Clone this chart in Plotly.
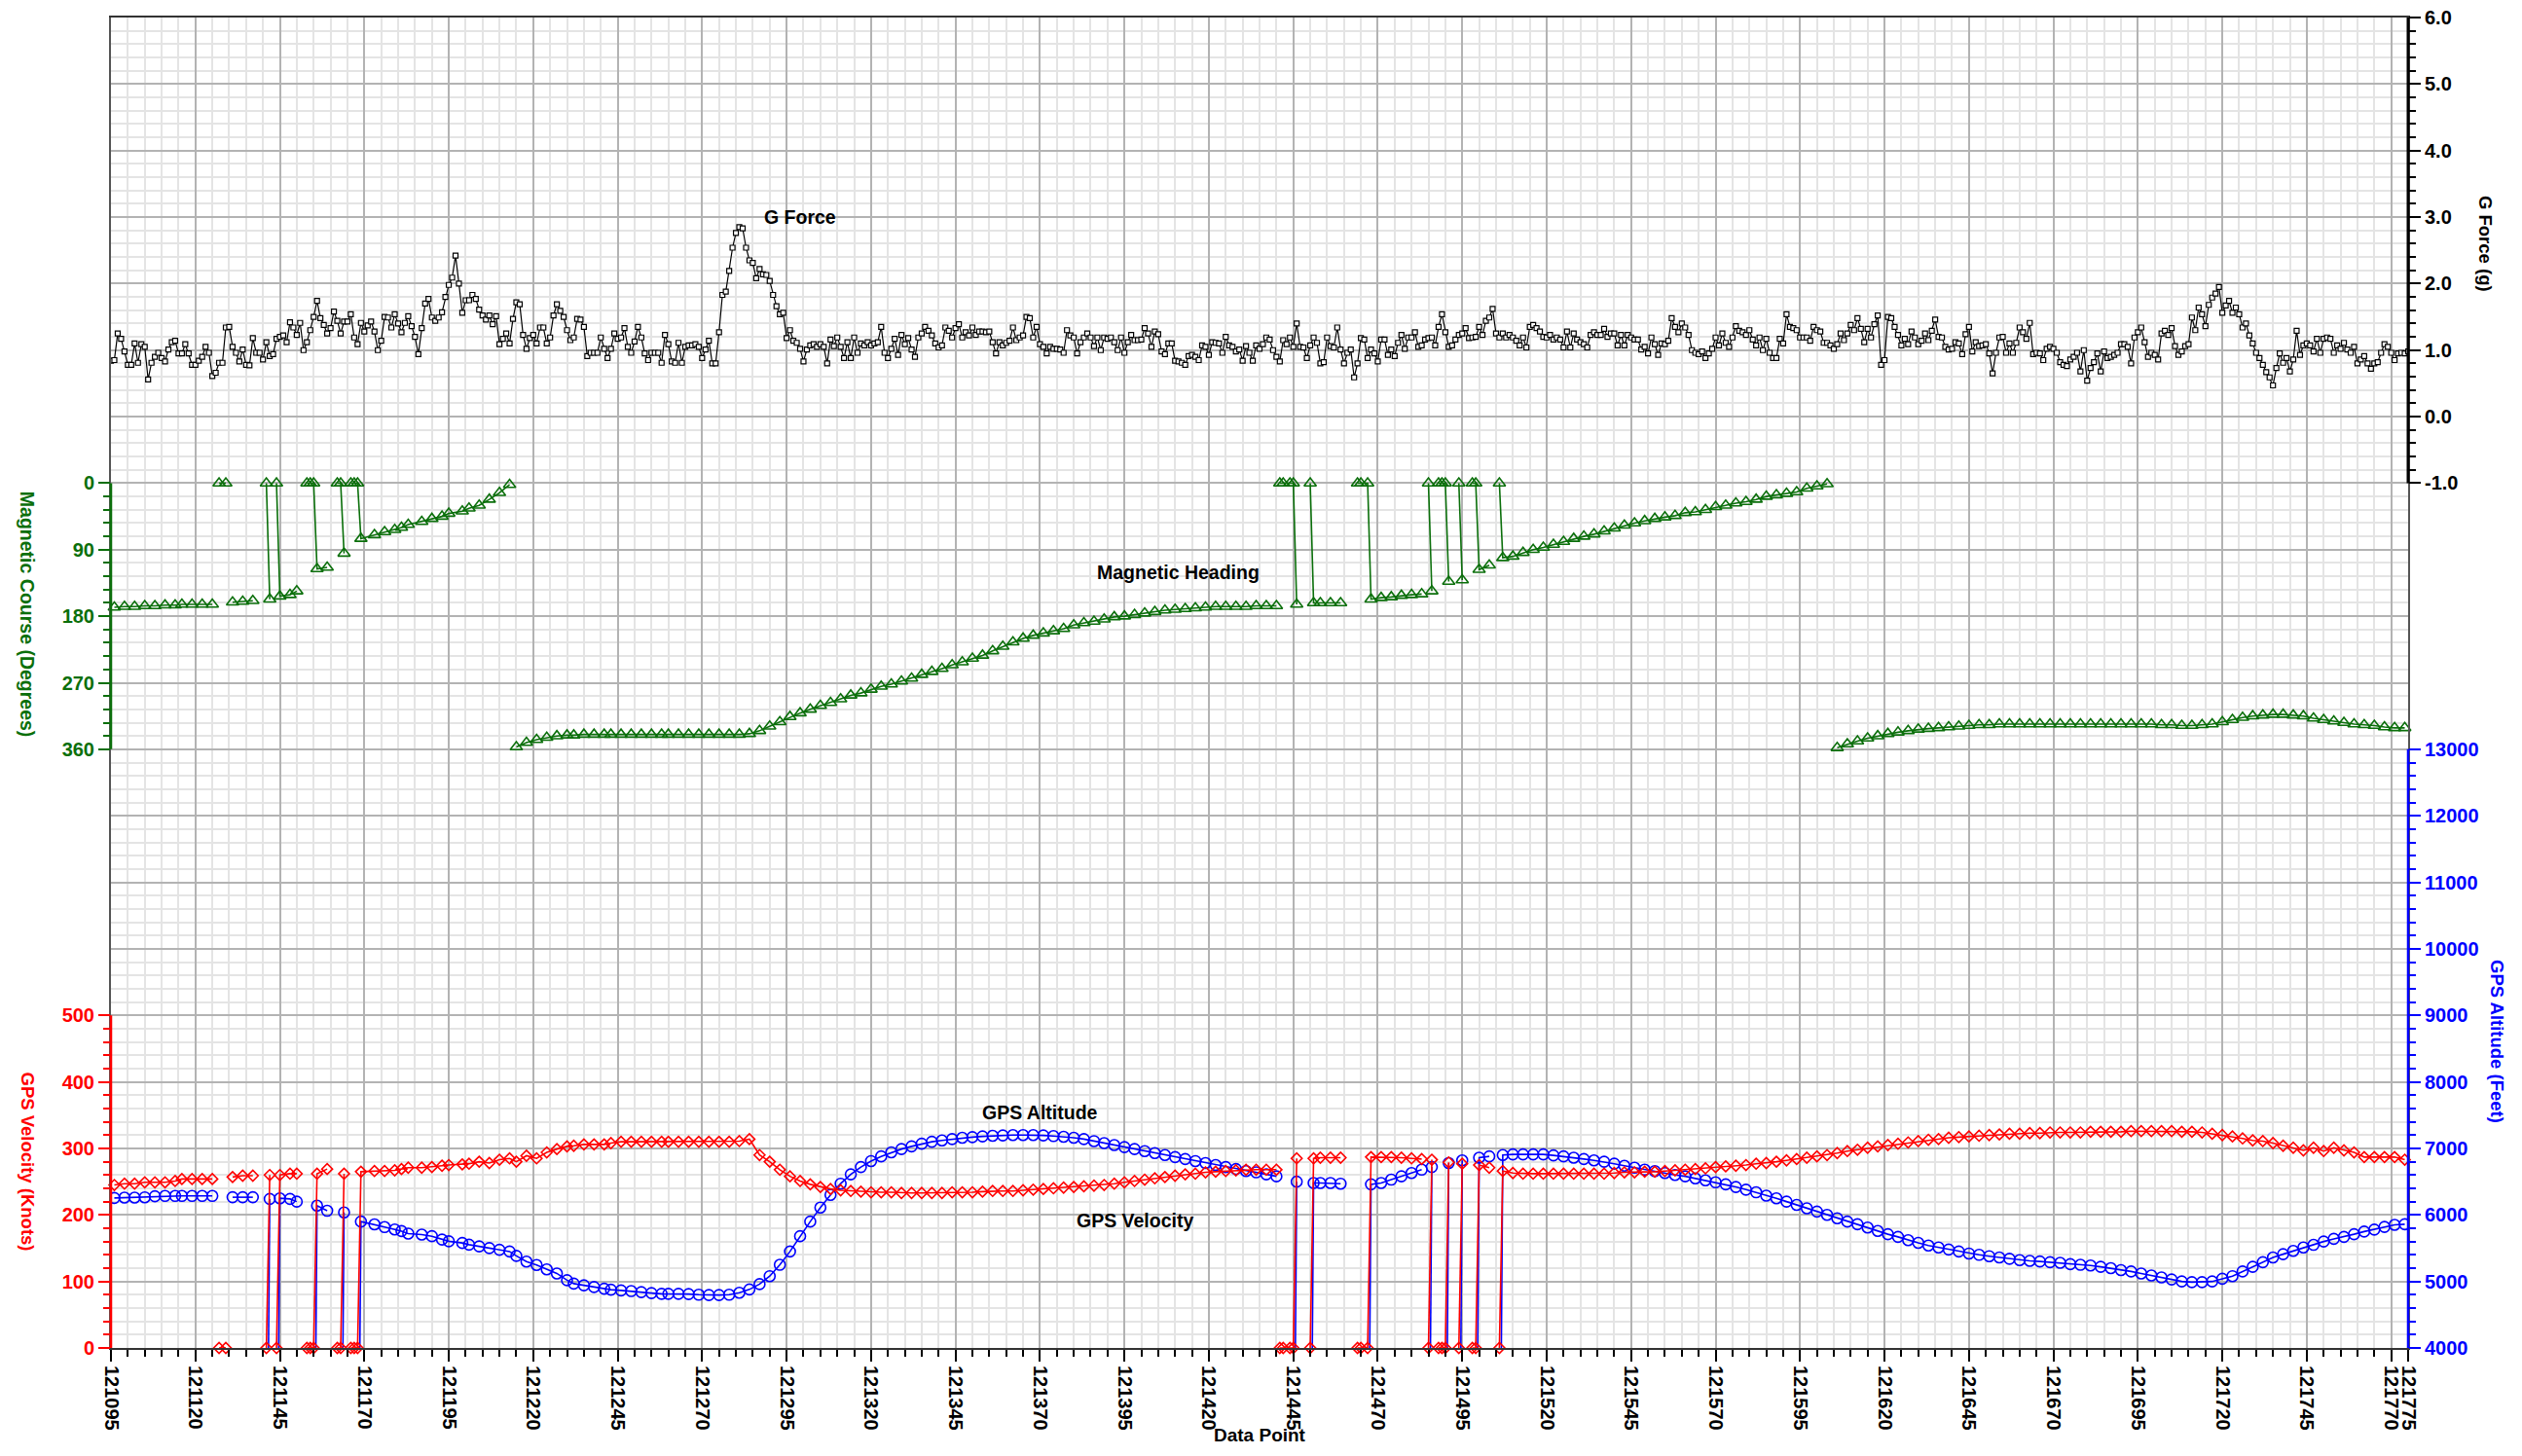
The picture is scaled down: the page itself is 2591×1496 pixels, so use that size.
import plotly.graph_objects as go

FONT = "Liberation Sans, Arial, sans-serif"
GREEN = "#0b6f0b"
RED = "#ff0000"
BLUE = "#0000ff"
BLACK = "#000000"

# ---------------- data ----------------
x_start, x_end = 121095, 121775
x_major = [121095, 121120, 121145, 121170, 121195, 121220, 121245, 121270, 121295, 121320,
           121345, 121370, 121395, 121420, 121445, 121470, 121495, 121520, 121545, 121570,
           121595, 121620, 121645, 121670, 121695, 121720, 121745, 121770, 121775]

g_force_a = [
    0.84, 0.85, 1.25, 1.17, 0.98, 0.78, 0.78, 1.10, 0.81, 1.09,
    1.05, 0.56, 0.81, 0.90, 0.96, 0.88, 0.83, 1.01, 1.12, 1.14,
    0.95, 0.95, 1.09, 0.95, 0.78, 0.78, 0.84, 0.90, 1.05, 0.96,
    0.61, 0.66, 0.81, 0.81, 1.34, 1.35, 1.05, 0.96, 0.83, 1.01,
    0.78, 0.77, 1.18, 0.96, 0.96, 0.86, 1.12, 0.91, 0.94, 1.17,
    1.20, 1.22, 1.12, 1.42, 1.34, 1.23, 1.41, 1.00, 1.12, 1.30,
    1.50, 1.74, 1.48, 1.38, 1.25, 1.33, 1.58, 1.44, 1.25, 1.43,
    1.43, 1.54, 1.19, 1.09, 1.41, 1.28, 1.37, 1.43, 1.28, 1.00,
    1.14, 1.50, 1.49, 1.34, 1.54, 1.40, 1.27, 1.41, 1.51, 1.36,
    1.20, 0.94, 1.33, 1.70, 1.77, 1.49, 1.44, 1.49, 1.57, 1.80,
    1.98, 2.09, 2.42, 2.00, 1.56, 1.75, 1.75, 1.83, 1.77, 1.61,
    1.52, 1.46, 1.52, 1.39, 1.51, 1.09, 1.17, 1.25, 1.10, 1.47,
    1.72, 1.69, 1.23, 1.02, 1.18, 1.23, 1.10, 1.34, 1.34, 1.10,
    1.19, 1.52, 1.69, 1.59, 1.50, 1.30, 1.15, 1.19, 1.47, 1.46,
    1.35, 0.91, 0.96, 0.96, 0.96, 1.19, 1.02, 0.88, 1.02, 1.25,
    1.17, 1.19, 1.33, 1.05, 0.96, 1.13, 1.35, 1.19, 0.95, 0.85,
    0.96, 0.96, 0.96, 0.81, 1.23, 1.09, 0.83, 0.81, 1.11, 0.81]
g_force_b = [
    1.05, 1.07, 1.07, 1.09, 1.05, 0.88, 1.01, 1.14, 0.80, 0.80,
    1.27, 1.83, 1.88, 2.19, 2.54, 2.76, 2.85, 2.83, 2.54, 2.35,
    2.31, 2.08, 2.22, 2.14, 2.13, 2.04, 1.83, 1.66, 1.54, 1.56,
    1.18, 1.30, 1.14, 1.11, 1.02, 0.83, 1.01, 1.07, 1.09, 1.05,
    1.09, 1.05, 0.80, 1.16, 1.06, 1.19, 1.05, 0.88, 1.12,
    0.88, 1.19, 0.96, 1.10, 1.07, 1.12, 1.07, 1.10, 1.12,
    1.35, 0.96, 0.88, 1.02, 1.17, 0.93, 1.23, 1.09, 1.18, 1.01,
    0.90, 1.19, 1.25, 1.35, 1.29, 1.22, 1.10, 1.04, 1.07, 1.34,
    1.29, 1.19, 1.33, 1.39, 1.19, 1.27, 1.22, 1.34, 1.23, 1.28,
    1.28, 1.27, 1.28, 1.12, 0.95, 1.12, 1.07, 1.11, 1.14,
    1.34, 1.15, 1.19, 1.22, 1.50, 1.48, 1.19, 1.35, 1.09, 1.05,
    0.95, 1.05, 1.02, 1.02, 1.01, 0.96, 1.30, 1.22, 1.19, 0.95,
    1.12, 1.19, 1.25, 1.19, 1.06, 1.19, 1.00, 1.19, 1.17, 1.19,
    1.12, 1.00, 1.19, 0.96, 1.12, 1.23, 1.15, 1.15,
    1.16, 1.33, 1.25, 1.05, 1.28, 1.24, 0.98, 0.94, 1.10, 1.10,
    0.84, 0.83, 0.81, 0.78, 0.91, 0.93, 0.90, 0.85, 1.07, 1.05,
    0.93, 1.12, 1.11, 1.10, 0.96, 1.20, 1.07, 1.05, 0.98, 1.01,
    0.84, 1.06, 0.96, 0.84, 1.07]
g_force_c = [
    1.02, 1.09, 1.19, 1.16, 1.00, 0.90, 0.83, 1.15, 1.09,
    1.19, 1.05, 1.40, 1.05, 1.04, 0.88, 1.07, 1.19,
    1.11, 0.80, 0.82, 1.19, 1.06, 1.04, 1.34, 1.01, 0.80,
    0.96, 1.01, 0.59, 0.80, 1.18, 1.16, 0.88, 1.01, 0.95, 0.83,
    1.16, 1.16, 0.93, 1.01, 0.91, 1.11, 1.23, 1.02, 1.19,
    1.19, 1.27, 1.05, 1.07, 1.16, 1.18, 1.19, 1.07, 1.35, 1.54,
    1.27, 1.05, 1.07, 1.16, 1.23, 1.25, 1.33, 1.18, 1.19, 1.20,
    1.35, 1.23, 1.44, 1.49, 1.62, 1.25, 1.19, 1.25, 1.19,
    1.23, 1.19, 1.14, 1.07, 1.19, 1.04, 1.35, 1.38,
    1.33, 1.28, 1.20, 1.19, 1.23, 1.16, 1.19, 1.16, 1.04,
    1.28, 1.04, 1.25, 1.16, 1.12, 1.09, 1.04, 1.23, 1.27, 1.23,
    1.23, 1.32, 1.20, 1.25, 1.25, 1.07, 1.23, 1.07, 1.23, 1.19,
    1.16, 1.16, 1.01, 1.05, 0.95, 1.19, 1.09, 0.93, 1.10, 1.09,
    1.14, 1.48, 1.35, 1.27, 1.40, 1.34, 1.23, 1.00, 0.96, 0.94,
    0.98, 0.88, 0.95, 1.02, 1.19, 1.07, 1.25, 1.11, 1.05, 1.19,
    1.36, 1.29, 1.27, 1.23, 1.30, 1.16, 1.07, 1.19, 1.00, 1.17,
    0.96, 0.88, 0.88, 1.17, 1.10, 1.54, 1.35, 1.33, 1.30, 1.19,
    1.19, 1.19, 1.14, 1.35, 1.30, 1.28, 1.11, 1.11, 1.07]
g_force_d = [
    1.02, 1.09, 1.25, 1.15, 1.25, 1.38, 1.30, 1.48, 1.32,
    1.12, 1.32, 1.19, 1.39, 1.52, 0.78, 0.85, 1.50, 1.48,
    1.35, 1.23, 1.07, 1.17, 1.09, 1.28, 1.19, 1.09, 1.14,
    1.25, 1.15, 1.29, 1.46, 1.20, 1.19, 1.05, 1.01, 1.02,
    1.12, 1.10, 0.94, 1.24, 1.35, 0.98, 1.12, 1.06, 1.07, 1.09,
    0.95, 0.65, 0.96, 1.19, 1.20, 0.96, 1.10, 0.96, 1.11, 1.34,
    1.27, 1.17, 1.41, 0.94, 0.96, 0.95, 0.85, 1.02, 1.05, 1.02,
    0.96, 0.82, 0.78, 0.76, 0.86, 0.90, 0.96, 0.68, 1.00, 0.54,
    0.73, 0.82, 0.95, 0.68, 0.98, 0.88, 0.90, 0.93, 0.96, 1.09,
    1.09, 1.05, 0.80, 1.19, 1.27, 1.34, 1.12, 0.90, 0.96, 0.93,
    0.86, 1.25, 1.29, 1.23, 1.33, 1.06, 0.93, 0.98, 1.06, 1.09,
    1.49, 1.30, 1.64, 1.54, 1.36, 1.68, 1.79, 1.85, 1.95, 1.56,
    1.67, 1.74, 1.56, 1.64, 1.54, 1.34, 1.40, 1.22, 1.10, 0.96,
    0.88, 0.78, 0.67, 0.59, 0.47, 0.73, 0.95, 0.81, 0.88, 0.68,
    0.86, 1.29, 0.93, 1.07, 1.10, 1.07, 0.98, 1.17, 0.96, 1.17,
    1.19, 1.17, 0.96, 1.07, 1.02, 1.11, 1.01, 0.96, 1.05,
    0.80, 0.86, 0.91, 0.80, 0.72, 0.80, 0.82, 0.96, 1.09, 1.05,
    0.96, 0.85, 0.95, 0.96, 0.95, 0.98]
g_force = g_force_a + g_force_b + g_force_c + g_force_d
g_point = list(range(x_start, x_end + 1))[:len(g_force)]

# GPS samples (None = break in the recorded line)
gps_point = [
    121096, 121099, 121102, 121105, 121108, 121111, 121114, 121116, 121119, 121122, 121125, None,
    121127, 121129, None,
    121131, 121134, 121137, None,
    121141, 121142, None,
    121144, 121145, 121148, 121150, None,
    121153, 121154, 121155, 121156, 121159, None,
    121162, 121163, 121164, None,
    121166, 121167, 121168, 121169, 121173, 121176, 121179, 121181, 121183, 121187, 121190, 121193, 121195,
    121199, 121201, 121204, 121207, 121210, 121213, 121215, 121218, 121221, 121224, 121227, 121230, 121232,
    121235, 121238, 121241, 121243, 121246, 121249, 121252, 121255, 121258, 121260,
    121263, 121266, 121269, 121272, 121275, 121278, 121281, 121284, 121287, 121290,
    121293, 121296, 121299, 121302, 121305, 121308, 121311, 121314, 121317, 121320,
    121323, 121326, 121329, 121332, 121335, 121338, 121341, 121344, 121347, 121350,
    121353, 121356, 121359, 121362, 121365, 121368, 121371, 121374, 121377, 121380,
    121383, 121386, 121389, 121392, 121395, 121398, 121401, 121404, 121407, 121410,
    121413, 121416, 121419, 121422, 121425, 121428, 121431, 121434, 121437, 121440, None,
    121441, 121442, 121444, 121445, 121446, None,
    121450, 121451, 121453, 121456, 121459, None,
    121464, 121465, 121467, 121468, 121471, 121474, 121477, 121480, 121483, None,
    121485, 121486, None,
    121488, 121489, 121490, 121491, None,
    121494, 121495, None,
    121498, 121499, 121500, 121503, None,
    121506,
    121507, 121510, 121513, 121516, 121519, 121522, 121525, 121528, 121531, 121534,
    121537, 121540, 121543, 121546, 121549, 121552, 121555, 121558, 121561, 121564,
    121567, 121570, 121573, 121576, 121579, 121582, 121585, 121588, 121591, 121594,
    121597, 121600, 121603, 121606, 121609, 121612, 121615, 121618, 121621, 121624,
    121627, 121630, 121633, 121636, 121639, 121642, 121645, 121648, 121651, 121654,
    121657, 121660, 121663, 121666, 121669, 121672, 121675, 121678, 121681, 121684,
    121687, 121690, 121693, 121696, 121699, 121702, 121705, 121708, 121711, 121714,
    121717, 121720, 121723, 121726, 121729, 121732, 121735, 121738, 121741, 121744,
    121747, 121750, 121753, 121756, 121759, 121762, 121765, 121768, 121771, 121774]

gps_velocity = [
    245, 247, 247, 249, 249, 249, 251, 254, 254, 254, 254, None,
    0, 0, None,
    257, 259, 259, None,
    0, 260, None,
    0, 260, 262, 262, None,
    0, 0, 0, 262, 269, None,
    0, 0, 262, None,
    0, 0, 0, 265, 266, 266, 267, 269, 271, 271, 272, 274, 275,
    276, 277, 280, 278, 283, 285, 280, 289, 285, 294, 299, 303, 304,
    306, 306, 306, 308, 310, 310, 310, 310, 310, 310,
    310, 310, 310, 310, 310, 310, 311, 314, 290, 280,
    268, 258, 251, 246, 242, 239, 237, 236, 235, 234,
    234, 234, 233, 233, 233, 233, 233, 234, 234, 234,
    235, 236, 236, 236, 237, 238, 239, 240, 241, 242,
    243, 244, 245, 247, 249, 251, 253, 255, 257, 259,
    261, 262, 264, 265, 266, 267, 268, 268, 268, 268, None,
    0, 0, 0, 0, 285, None,
    0, 285, 286, 286, 286, None,
    0, 0, 0, 287, 287, 287, 286, 285, 284, None,
    0, 283, None,
    0, 0, 0, 279, None,
    0, 277, None,
    0, 0, 275, 271, None,
    0,
    266, 263, 262, 262, 262, 262, 262, 262, 262, 262,
    262, 263, 264, 264, 265, 265, 266, 267, 268, 269,
    270, 272, 273, 274, 275, 277, 278, 280, 282, 284,
    286, 288, 290, 293, 296, 298, 301, 303, 305, 307,
    309, 311, 313, 314, 316, 317, 318, 319, 320, 321,
    322, 322, 323, 323, 324, 324, 324, 324, 325, 325,
    325, 325, 326, 326, 326, 326, 326, 325, 325, 324,
    322, 320, 318, 315, 312, 311, 308, 304, 301, 297,
    301, 296, 301, 297, 294, 287, 287, 287, 287, 283]

gps_altitude = [
    6255, 6260, 6260, 6265, 6280, 6285, 6285, 6285, 6285, 6285, 6285, None,
    0, 0, None,
    6266, 6266, 6266, None,
    0, 6240, None,
    0, 6250, 6240, 6200, None,
    0, 0, 0, 6140, 6062, None,
    0, 0, 6037, None,
    0, 0, 0, 5900, 5858, 5817, 5782, 5757, 5720, 5705, 5680, 5629, 5604,
    5578, 5553, 5527, 5502, 5476, 5450, 5384, 5298, 5247, 5181, 5120, 5018, 4967,
    4942, 4916, 4891, 4876, 4865, 4855, 4840, 4825, 4814, 4814,
    4814, 4810, 4800, 4795, 4795, 4800, 4830, 4880, 4960, 5080,
    5250, 5450, 5680, 5900, 6110, 6300, 6470, 6610, 6720, 6810,
    6880, 6940, 6990, 7030, 7070, 7100, 7120, 7140, 7160, 7170,
    7180, 7190, 7195, 7200, 7200, 7200, 7195, 7185, 7175, 7160,
    7140, 7110, 7080, 7050, 7020, 6990, 6960, 6930, 6900, 6870,
    6840, 6810, 6780, 6750, 6720, 6690, 6660, 6640, 6610, 6580, None,
    0, 0, 0, 0, 6500, None,
    0, 6480, 6480, 6480, 6470, None,
    0, 0, 0, 6460, 6480, 6530, 6580, 6630, 6680, None,
    0, 6720, None,
    0, 0, 0, 6780, None,
    0, 6820, None,
    0, 0, 6860, 6880, None,
    0,
    6900, 6910, 6910, 6910, 6910, 6895, 6880, 6860, 6840, 6820,
    6800, 6770, 6740, 6710, 6680, 6660, 6630, 6600, 6580, 6550,
    6520, 6490, 6460, 6420, 6380, 6340, 6290, 6250, 6200, 6150,
    6100, 6050, 6000, 5950, 5900, 5860, 5810, 5760, 5710, 5670,
    5620, 5580, 5540, 5510, 5480, 5450, 5420, 5400, 5380, 5360,
    5340, 5320, 5310, 5300, 5290, 5280, 5260, 5250, 5240, 5220,
    5200, 5170, 5150, 5120, 5090, 5060, 5030, 5000, 4990, 4990,
    5000, 5040, 5080, 5150, 5220, 5290, 5360, 5410, 5460, 5510,
    5550, 5600, 5640, 5670, 5710, 5750, 5780, 5820, 5850, 5860]

mag_point = [
    121096, 121099, 121102, 121105, 121108, 121111, 121114, 121116, 121119, 121122, 121125, None,
    121127, 121129, None,
    121131, 121134, 121137, None,
    121141, 121142, None,
    121144, 121145, 121148, 121150, None,
    121153, 121154, 121155, 121156, 121159, None,
    121162, 121163, 121164, None,
    121166, 121167, 121168, 121169, 121173, 121176, 121179, 121181, 121183, 121187, 121190, 121193, 121195,
    121199, 121201, 121204, 121207, 121210, 121213, None,
    121215, 121218, 121221, 121224, 121227, 121230, 121232, 121235, 121238, 121241, 121243, 121246,
    121249, 121252, 121255, 121258, 121260,
    121263, 121266, 121269, 121272, 121275, 121278, 121281, 121284, 121287, 121290,
    121293, 121296, 121299, 121302, 121305, 121308, 121311, 121314, 121317, 121320,
    121323, 121326, 121329, 121332, 121335, 121338, 121341, 121344, 121347, 121350,
    121353, 121356, 121359, 121362, 121365, 121368, 121371, 121374, 121377, 121380,
    121383, 121386, 121389, 121392, 121395, 121398, 121401, 121404, 121407, 121410,
    121413, 121416, 121419, 121422, 121425, 121428, 121431, 121434, 121437, 121440, None,
    121441, 121442, 121444, 121445, 121446, None,
    121450, 121451, 121453, 121456, 121459, None,
    121464, 121465, 121467, 121468, 121471, 121474, 121477, 121480, 121483, None,
    121485, 121486, None,
    121488, 121489, 121490, 121491, None,
    121494, 121495, None,
    121498, 121499, 121500, 121503, None,
    121506,
    121507, 121510, 121513, 121516, 121519, 121522, 121525, 121528, 121531, 121534,
    121537, 121540, 121543, 121546, 121549, 121552, 121555, 121558, 121561, 121564,
    121567, 121570, 121573, 121576, 121579, 121582, 121585, 121588, 121591, 121594,
    121597, 121600, 121603, None,
    121606, 121609, 121612, 121615, 121618, 121621, 121624,
    121627, 121630, 121633, 121636, 121639, 121642, 121645, 121648, 121651, 121654,
    121657, 121660, 121663, 121666, 121669, 121672, 121675, 121678, 121681, 121684,
    121687, 121690, 121693, 121696, 121699, 121702, 121705, 121708, 121711, 121714,
    121717, 121720, 121723, 121726, 121729, 121732, 121735, 121738, 121741, 121744,
    121747, 121750, 121753, 121756, 121759, 121762, 121765, 121768, 121771, 121774]

mag_course = [
    168, 167, 167, 166, 166, 165, 165, 164, 164, 164, 164, None,
    0, 0, None,
    161, 160, 159, None,
    0, 157, None,
    0, 153, 151, 146, None,
    0, 0, 0, 116, 114, None,
    0, 0, 95, None,
    0, 0, 0, 75, 70, 66, 63, 60, 56, 52, 48, 45, 41,
    38, 34, 30, 22, 13, 2, None,
    357, 351, 347, 344, 342, 341, 341, 340, 340, 340, 340, 340,
    340, 340, 340, 340, 340,
    340, 340, 340, 340, 340, 340, 340, 339, 335, 329,
    323, 316, 311, 306, 301, 297, 292, 287, 284, 279,
    275, 272, 268, 264, 259, 255, 251, 246, 242, 237,
    233, 227, 221, 215, 210, 206, 203, 200, 197, 192,
    189, 187, 184, 181, 180, 178, 176, 174, 172, 171,
    170, 169, 168, 167, 167, 167, 167, 166, 166, 166, None,
    0, 0, 0, 0, 164, None,
    0, 162, 162, 162, 162, None,
    0, 0, 0, 157, 155, 154, 152, 151, 150, None,
    0, 146, None,
    0, 0, 0, 133, None,
    0, 131, None,
    0, 0, 117, 111, None,
    0,
    101, 99, 94, 90, 87, 83, 79, 75, 72, 69,
    65, 61, 57, 54, 51, 48, 46, 44, 40, 39,
    36, 32, 30, 27, 25, 22, 18, 16, 14, 12,
    7, 4, 1, None,
    358, 353, 349, 345, 342, 339, 337,
    335, 333, 332, 331, 330, 329, 328, 327, 327, 326,
    326, 326, 326, 326, 326, 326, 326, 326, 326, 326,
    326, 326, 326, 326, 326, 327, 327, 328, 328, 327,
    326, 323, 320, 317, 315, 314, 313, 313, 314, 315,
    318, 320, 322, 324, 326, 327, 328, 330, 331, 331]

# axis ticks
g_ticks = [-1, 0, 1, 2, 3, 4, 5, 6]
g_ticktext = ["-1.0", "0.0", "1.0", "2.0", "3.0", "4.0", "5.0", "6.0"]
mag_ticks = [0, 90, 180, 270, 360]
alt_ticks = [4000, 5000, 6000, 7000, 8000, 9000, 10000, 11000, 12000, 13000]
vel_ticks = [0, 100, 200, 300, 400, 500]

# ---------------- layout geometry (20 equal grid bands) ----------------
N_DIV = 20
G_TOP, G_STEP = 6, 1              # G axis: 6.0 at the top band, 1 g per band
MAG_TOP_BAND, MAG_STEP = 7, 90    # 0 deg at band 7, 90 deg per band (reversed)
ALT_BOTTOM, ALT_STEP = 4000, 1000
VEL_BOTTOM, VEL_STEP = 0, 100

g_range = [G_TOP - N_DIV * G_STEP, G_TOP]
mag_range = [(N_DIV - MAG_TOP_BAND) * MAG_STEP, -MAG_TOP_BAND * MAG_STEP]
alt_range = [ALT_BOTTOM, ALT_BOTTOM + N_DIV * ALT_STEP]
vel_range = [VEL_BOTTOM, VEL_BOTTOM + N_DIV * VEL_STEP]

g_minor = [round(-1 + 0.2 * k, 2) for k in range(36)]
mag_minor = [18 * k for k in range(21)]
alt_minor = [4000 + 200 * k for k in range(46)]
vel_minor = [20 * k for k in range(26)]
x_minor = list(range(x_start, x_end + 1, 5))

MAJ_GRID = "#b3b3b3"
MIN_GRID = "#e4e4e4"

def tfont(color, size=20):
    return dict(family=FONT, size=size, color=color, weight="bold")

fig = go.Figure()

# empty trace on the base axes so that the other y axes are true overlays of one plot area
fig.add_trace(go.Scatter(x=[], y=[], xaxis="x", yaxis="y", showlegend=False, hoverinfo="skip"))

fig.add_trace(go.Scatter(
    x=g_point, y=g_force, yaxis="y2", mode="lines+markers",
    line=dict(color=BLACK, width=1.2),
    marker=dict(symbol="square", size=5, color="white", line=dict(color=BLACK, width=1.2)),
    showlegend=False, hoverinfo="skip"))

fig.add_trace(go.Scatter(
    x=mag_point, y=mag_course, yaxis="y3", mode="lines+markers",
    line=dict(color=GREEN, width=1.6),
    marker=dict(symbol="triangle-up-open", size=11, color=GREEN, line=dict(width=1.6)),
    cliponaxis=False, showlegend=False, hoverinfo="skip"))

fig.add_trace(go.Scatter(
    x=gps_point, y=gps_altitude, yaxis="y4", mode="lines+markers",
    line=dict(color=BLUE, width=1.6),
    marker=dict(symbol="circle-open", size=11, color=BLUE, line=dict(width=1.6)),
    showlegend=False, hoverinfo="skip"))

fig.add_trace(go.Scatter(
    x=gps_point, y=gps_velocity, yaxis="y5", mode="lines+markers",
    line=dict(color=RED, width=1.6),
    marker=dict(symbol="diamond-open", size=8.5, color=RED, line=dict(width=1.6)),
    cliponaxis=False, showlegend=False, hoverinfo="skip"))

common_y = dict(overlaying="y", anchor="x", showgrid=False, zeroline=False, showline=False,
                tickmode="array", ticks="outside", ticklen=12, tickwidth=2, fixedrange=True,
                automargin=False)

def minor(vals, color):
    return dict(tickmode="array", tickvals=vals, ticks="outside", ticklen=7,
                tickwidth=2, tickcolor=color, showgrid=False)

fig.update_layout(
    width=2591, height=1496,
    margin=dict(l=114, r=117, t=18, b=111, autoexpand=False),
    paper_bgcolor="white", plot_bgcolor="rgba(0,0,0,0)",
    font=dict(family=FONT, color=BLACK),
    xaxis=dict(
        range=[x_start, x_end], tickmode="array", tickvals=x_major,
        ticktext=[str(v) for v in x_major], tickangle=90,
        ticks="outside", ticklen=12, tickwidth=2, tickcolor=BLACK,
        tickfont=tfont(BLACK), showgrid=True, gridcolor=MAJ_GRID, gridwidth=1.5,
        minor=dict(tickmode="array", tickvals=x_minor, ticks="outside", ticklen=7,
                   tickwidth=2, tickcolor=BLACK, showgrid=True, gridcolor=MIN_GRID, gridwidth=1.5),
        showline=True, mirror=True, linecolor="#333333", linewidth=2,
        zeroline=False, fixedrange=True, automargin=False),
    yaxis=dict(
        range=[0, N_DIV], tickmode="linear", tick0=0, dtick=1, showticklabels=False,
        ticks="", showgrid=True, gridcolor=MAJ_GRID, gridwidth=1.5,
        minor=dict(tick0=0, dtick=0.2, showgrid=True, gridcolor=MIN_GRID, gridwidth=1.5, ticks=""),
        showline=True, mirror=True, linecolor="#555555", linewidth=2,
        zeroline=False, fixedrange=True, automargin=False),
    yaxis2=dict(common_y, side="right", range=g_range, tickvals=g_ticks, ticktext=g_ticktext,
                tickcolor=BLACK, tickfont=tfont(BLACK), minor=minor(g_minor, BLACK)),
    yaxis3=dict(common_y, side="left", range=mag_range, tickvals=mag_ticks,
                ticktext=[str(v) for v in mag_ticks],
                tickcolor=GREEN, tickfont=tfont(GREEN), minor=minor(mag_minor, GREEN)),
    yaxis4=dict(common_y, side="right", range=alt_range, tickvals=alt_ticks,
                ticktext=[str(v) for v in alt_ticks],
                tickcolor=BLUE, tickfont=tfont(BLUE), minor=minor(alt_minor, BLUE)),
    yaxis5=dict(common_y, side="left", range=vel_range, tickvals=vel_ticks,
                ticktext=[str(v) for v in vel_ticks],
                tickcolor=RED, tickfont=tfont(RED), minor=minor(vel_minor, RED)),
)

# coloured axis spines, only over each axis' own value span
fig.add_shape(type="line", xref="paper", yref="y2", x0=1, x1=1, y0=g_ticks[0], y1=g_ticks[-1],
              line=dict(color=BLACK, width=3))
fig.add_shape(type="line", xref="paper", yref="y4", x0=1, x1=1, y0=alt_ticks[0], y1=alt_ticks[-1],
              line=dict(color=BLUE, width=2.5))
fig.add_shape(type="line", xref="paper", yref="y3", x0=0, x1=0, y0=mag_ticks[0], y1=mag_ticks[-1],
              line=dict(color=GREEN, width=2.5))
fig.add_shape(type="line", xref="paper", yref="y5", x0=0, x1=0, y0=vel_ticks[0], y1=vel_ticks[-1],
              line=dict(color=RED, width=2.5))

# axis titles (rotated clockwise like the original)
fig.add_annotation(text="Magnetic Course (Degrees)", xref="paper", yref="paper",
                   x=-0.0364, y=0.5516, textangle=90, showarrow=False,
                   font=tfont(GREEN, 19.5), xanchor="center", yanchor="middle")
fig.add_annotation(text="GPS Velocity (Knots)", xref="paper", yref="paper",
                   x=-0.0364, y=0.140, textangle=90, showarrow=False,
                   font=tfont(RED, 18.5), xanchor="center", yanchor="middle")
fig.add_annotation(text="G Force (g)", xref="paper", yref="paper",
                   x=1.0335, y=0.8303, textangle=90, showarrow=False,
                   font=tfont(BLACK, 18.5), xanchor="center", yanchor="middle")
fig.add_annotation(text="GPS Altitude (Feet)", xref="paper", yref="paper",
                   x=1.0390, y=0.2304, textangle=90, showarrow=False,
                   font=tfont(BLUE, 18.5), xanchor="center", yanchor="middle")
fig.add_annotation(text="Data Point", xref="paper", yref="paper",
                   x=0.5, y=-0.0658, showarrow=False,
                   font=tfont(BLACK, 19), xanchor="center", yanchor="middle")

# series labels inside the plot
fig.add_annotation(text="G Force", x=121299, y=3.0, xref="x", yref="y2", showarrow=False,
                   font=tfont(BLACK, 19.5))
fig.add_annotation(text="Magnetic Heading", x=121411, y=121, xref="x", yref="y3", showarrow=False,
                   font=tfont(BLACK, 19.5))
fig.add_annotation(text="GPS Altitude", x=121370, y=7542, xref="x", yref="y4", showarrow=False,
                   font=tfont(BLACK, 19.5))
fig.add_annotation(text="GPS Velocity", x=121398, y=191, xref="x", yref="y5", showarrow=False,
                   font=tfont(BLACK, 19.5))

fig.write_html("out.html")
